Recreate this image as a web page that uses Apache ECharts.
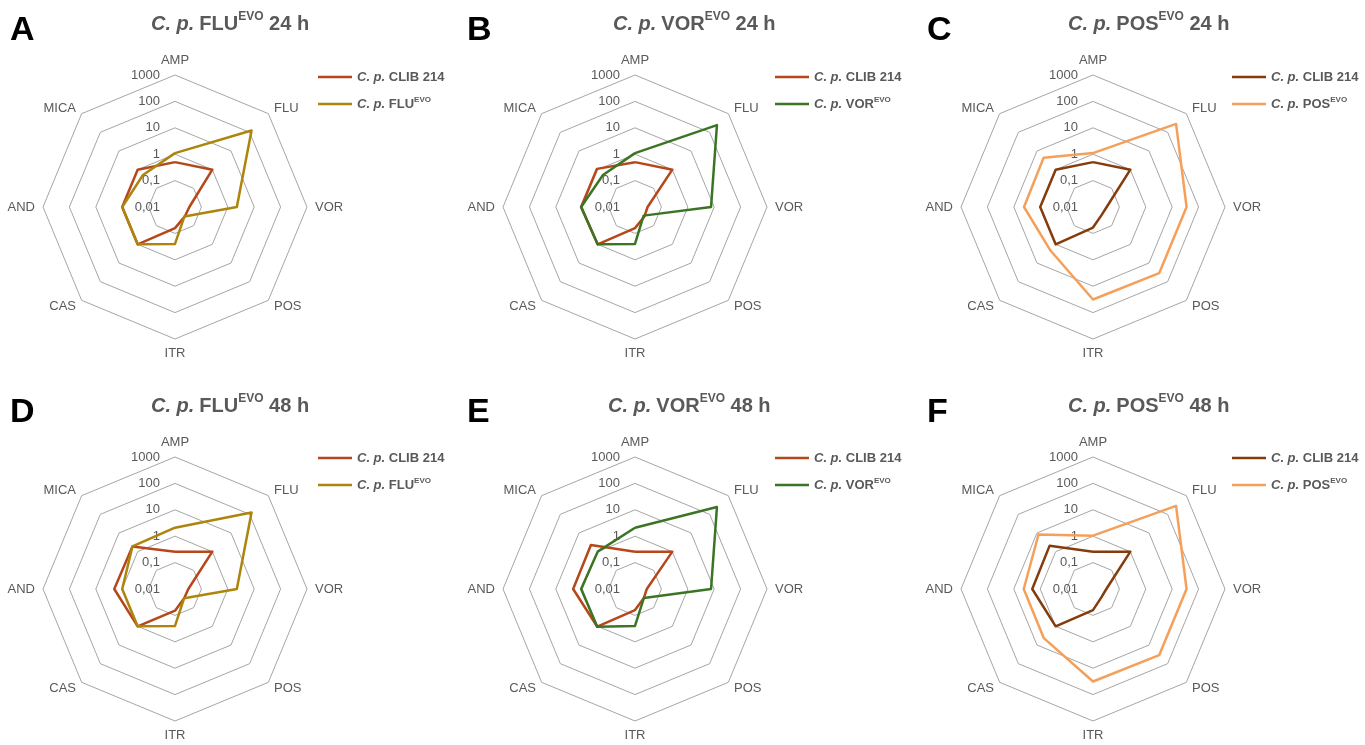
<!DOCTYPE html>
<html><head><meta charset="utf-8">
<script src="https://cdn.jsdelivr.net/npm/echarts@6/dist/echarts.min.js"></script>
<style>html,body{margin:0;padding:0;background:#fff}#c{width:1365px;height:745px}</style>
</head><body><div id="c"></div>
<script>
// ---- data ----
const axes = ['AMP', 'FLU', 'VOR', 'POS', 'ITR', 'CAS', 'AND', 'MICA'];
const tickLabels = ['0,01', '0,1', '1', '10', '100', '1000'];
const panelLetters = ['A', 'B', 'C', 'D', 'E', 'F'];
const evoStrains = ['FLU', 'VOR', 'POS', 'FLU', 'VOR', 'POS'];
const times = ['24 h', '24 h', '24 h', '48 h', '48 h', '48 h'];
const refStrain = 'CLIB 214';
// values per axis (AMP, FLU, VOR, POS, ITR, CAS, AND, MICA)
const clibA = [0.5, 1, 0.035, 0.033, 0.063, 1, 1, 1];
const evoA  = [1.1, 126, 2.2, 0.032, 0.25, 1, 1, 0.52];
const clibB = [0.5, 1, 0.03, 0.032, 0.063, 1, 1.1, 1.1];
const evoB  = [1.1, 245, 7.6, 0.029, 0.25, 1, 1.1, 0.52];
const clibC = [0.5, 1, 0.033, 0.028, 0.06, 1, 1, 1];
const evoC  = [1.1, 282, 35, 35, 32, 2, 4.1, 4.4];
const clibD = [0.26, 1, 0.032, 0.031, 0.066, 1, 2, 1.9];
const evoD  = [2.1, 126, 2.2, 0.031, 0.25, 1, 1, 1.9];
const clibE = [0.26, 1, 0.028, 0.03, 0.063, 1.05, 2.2, 2.3];
const evoE  = [2.1, 245, 7.6, 0.03, 0.25, 1.05, 1.1, 1];
const clibF = [0.26, 1, 0.032, 0.028, 0.063, 1, 2, 2.1];
const evoF  = [1.05, 282, 35, 35, 32, 4.3, 4.2, 8.3];

const clibSets = [clibA, clibB, clibC, clibD, clibE, clibF];
const evoSets = [evoA, evoB, evoC, evoD, evoE, evoF];

// ---- styling / layout ----
const clibColors = ['#B5471A', '#B5471A', '#843C0C', '#B5471A', '#B5471A', '#843C0C'];
const evoColors = ['#AD850C', '#3B7524', '#F5A05A', '#AD850C', '#3B7524', '#F5A05A'];
const centers = [[175, 207], [635, 207], [1093, 207], [175, 589], [635, 589], [1093, 589]];
const titleLeft = [146, 608, 1063, 146, 603, 1063];
const titleTop = [6, 6, 6, 388, 388, 388];
const letterPos = [[5, 9], [462, 9], [922, 9], [5, 391], [462, 391], [922, 391]];
const legendPos = [[318, 69], [775, 69], [1232, 69], [318, 450], [775, 450], [1232, 450]];
const logMin = -2, logMax = 3;
const FONT = 'Liberation Sans';
const GREY = '#595959';

// ECharts radar runs counter-clockwise, reference runs clockwise
const order = [0].concat(axes.slice(1).map((_, k) => axes.length - 1 - k));
const toLog = arr => order.map(k => Math.log10(arr[k]));

const legendLabel = {};
const series = [], radars = [], legends = [], titles = [];
panelLetters.forEach((L, i) => {
  const nClib = L + '_clib', nEvo = L + '_evo';
  legendLabel[nClib] = '{i|C. p.} {b|' + refStrain + '}';
  legendLabel[nEvo] = '{i|C. p.} {b|' + evoStrains[i] + '}{s|EVO}';
  radars.push({
    center: centers[i], radius: 132, startAngle: 90, shape: 'polygon', splitNumber: 5,
    indicator: order.map((k, j) => ({ name: axes[k], min: logMin, max: logMax, axisLabel: { show: j === 0 } })),
    axisName: { color: GREY, fontSize: 13, fontFamily: FONT },
    nameGap: 8,
    axisLine: { show: false }, axisTick: { show: false },
    splitLine: { lineStyle: { color: '#A6A6A6', width: 1 } },
    splitArea: { show: false },
    axisLabel: { show: false, color: GREY, fontSize: 13, fontFamily: FONT, margin: 15,
      formatter: v => tickLabels[Math.round(v) - logMin] }
  });
  series.push({
    type: 'radar', radarIndex: i, symbol: 'none', silent: true,
    data: [
      { name: nClib, value: toLog(clibSets[i]), lineStyle: { color: clibColors[i], width: 2.5 }, itemStyle: { color: clibColors[i] } },
      { name: nEvo, value: toLog(evoSets[i]), lineStyle: { color: evoColors[i], width: 2.5 }, itemStyle: { color: evoColors[i] } }
    ]
  });
  legends.push({
    data: [nClib, nEvo], left: legendPos[i][0], top: legendPos[i][1], orient: 'vertical', padding: 0,
    icon: 'rect', itemWidth: 34, itemHeight: 2.5, itemGap: 11, selectedMode: false,
    formatter: n => legendLabel[n],
    textStyle: { color: GREY, fontFamily: FONT, fontSize: 13, fontWeight: 'bold', lineHeight: 16,
      rich: {
        i: { fontStyle: 'italic', fontWeight: 'bold', fontSize: 13, color: GREY, fontFamily: FONT },
        b: { fontWeight: 'bold', fontSize: 13, color: GREY, fontFamily: FONT },
        s: { fontWeight: 'bold', fontSize: 8, color: GREY, fontFamily: FONT, verticalAlign: 'top', lineHeight: 16 }
      } }
  });
  titles.push({
    text: '{i|C. p.} {b|' + evoStrains[i] + '}{s|EVO}{b| ' + times[i] + '}',
    left: titleLeft[i], top: titleTop[i],
    textStyle: { rich: {
      i: { fontStyle: 'italic', fontWeight: 'bold', fontSize: 20, color: GREY, fontFamily: FONT, lineHeight: 26 },
      b: { fontWeight: 'bold', fontSize: 20, color: GREY, fontFamily: FONT, lineHeight: 26 },
      s: { fontWeight: 'bold', fontSize: 12, color: GREY, fontFamily: FONT, verticalAlign: 'top', lineHeight: 16 }
    } }
  });
  titles.push({
    text: L, left: letterPos[i][0], top: letterPos[i][1],
    textStyle: { fontSize: 34, fontWeight: 'bold', color: '#000', fontFamily: FONT }
  });
});

const chart = echarts.init(document.getElementById('c'), null, { renderer: 'canvas' });
chart.setOption({
  animation: false,
  backgroundColor: '#fff',
  title: titles,
  radar: radars,
  legend: legends,
  series: series
});
</script></body></html>
